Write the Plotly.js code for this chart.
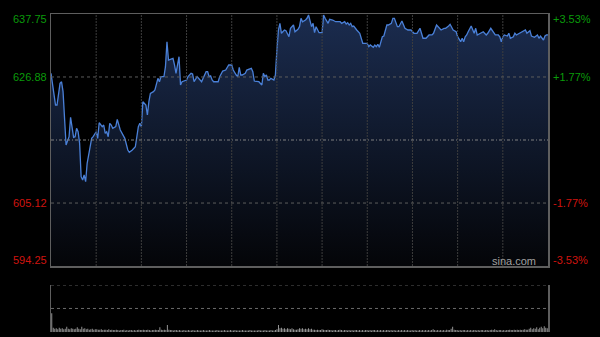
<!DOCTYPE html>
<html>
<head>
<meta charset="utf-8">
<script src="https://cdn.plot.ly/plotly-3.0.1.min.js"></script>
<style>html,body{margin:0;padding:0;background:#000;}#chart{width:600px;height:337px;}</style>
</head>
<body>
<div id="chart"></div>
<script>
// ---- data (minutes since open, price) ----
const minutes = [0,3,4,6,7,8,10,11,12,13,15,16,17,18,19,20,21,22,23,24,25,27,28,30,31,32,34,35,36,37,38,39,40,41,43,44,46,48,49,51,52,54,56,58,59,60,61,63,64,65,66,68,69,71,72,73,75,76,77,78,79,81,82,83,85,86,87,90,91,93,94,95,97,98,100,101,103,104,105,106,107,108,111,112,114,116,118,120,121,123,124,125,126,127,129,130,133,134,135,138,140,141,142,143,144,145,146,148,149,150,151,152,153,155,156,158,159,161,162,164,165,166,167,169,170,171,173,174,175,176,178,180,181,182,184,185,187,189,192,193,195,196,197,198,199,200,201,203,205,207,210,211,212,214,215,216,217,218,220,221,223,224,226,227,228,230,231,233,235,237,239,241,243,245,247,249,251,253,254,256,258,259,261,262,264,265,267,269,270,272,273,274,275,276,277,278,279,281,282,283,285,287,289,290,292,293,295,297,298,299,300,301,303,304,305,307,308,309,311,312,314,315,316,318,319,321,323,324,325,327,328,329,330];
const prices = [627.51,622.04,622.04,625.79,626.06,624.34,615.14,615.71,616.57,619.92,616.47,616.57,618.02,617.43,615.43,609.67,609.10,609.96,608.80,611.98,613.41,616.29,616.57,617.43,616.29,618.99,618.30,618.59,617.16,617.43,616.57,618.88,618.59,618.02,618.30,619.57,617.73,616.86,616.29,614.27,613.88,614.27,614.84,618.30,618.88,618.30,622.61,622.04,620.32,622.61,624.06,624.34,624.63,626.65,626.06,626.93,626.93,628.65,632.97,629.81,629.93,630.10,628.95,627.51,630.38,625.49,626.06,626.36,626.93,627.51,627.39,626.06,626.93,626.65,626.06,626.65,627.79,627.79,626.93,627.05,626.36,626.06,626.06,626.93,627.91,628.08,628.95,628.95,628.08,627.22,626.93,628.55,627.22,627.22,627.51,628.08,628.38,627.79,626.18,626.06,625.49,627.51,626.93,627.22,626.36,626.36,626.65,626.36,627.22,631.54,634.99,636.14,634.42,634.99,634.87,633.83,635.28,635.85,634.69,635.11,635.56,637.01,636.42,636.71,637.01,637.58,635.56,636.14,634.52,635.56,634.52,634.52,637.58,637.01,636.14,636.84,636.71,636.42,636.42,636.14,636.42,636.02,636.25,635.85,636.14,635.56,635.68,634.99,634.42,632.69,632.69,632.11,632.40,632.00,632.40,632.11,632.52,632.00,633.83,633.95,635.85,635.85,636.14,637.01,637.01,635.56,635.56,636.54,635.28,634.99,634.99,634.42,634.42,635.28,633.56,633.56,634.13,634.13,634.42,635.85,635.28,634.99,635.28,635.28,635.68,635.97,634.99,634.69,633.83,632.97,633.56,632.97,633.83,634.13,634.69,635.28,635.68,634.42,635.28,634.13,634.42,634.69,634.13,634.42,635.28,634.87,634.13,634.13,633.83,632.97,633.83,634.13,633.95,634.42,633.56,633.83,634.42,634.13,634.42,634.69,634.87,634.99,634.42,634.87,633.95,633.73,634.13,633.56,633.95,633.26,633.95,634.13,634.13];

// volume per minute (relative units, 0-100 = panel height)
const volume = [
40,9,7,8,6,9,7,8,6,7,11,7,6,8,7,6,7,10,7,6,11,7,8,6,7,5,6,7,5,6,
6,5,5,6,4,5,5,4,6,4,5,4,4,5,4,3,4,4,5,3,4,3,4,4,3,4,3,4,5,4,
4,5,4,4,5,4,3,4,4,5,4,4,10,5,4,5,4,15,5,4,4,3,4,4,3,4,3,3,4,3,
3,4,3,3,4,3,3,4,3,3,3,4,3,3,3,4,3,3,3,3,4,3,3,3,3,4,3,3,3,4,
3,3,4,3,3,3,3,4,3,3,3,3,4,3,3,3,3,3,4,3,3,3,4,3,3,3,4,3,3,4,
6,15,8,9,7,8,6,8,7,6,8,6,5,5,6,8,7,8,6,7,6,8,6,7,5,5,4,5,4,4,
6,5,4,4,5,4,4,3,4,4,3,4,5,4,3,4,4,3,4,3,4,3,4,4,3,4,3,4,3,4,
4,3,4,3,4,4,3,4,3,4,3,4,3,4,4,3,4,3,4,3,3,4,3,4,3,4,3,4,3,3,
4,3,4,3,3,4,3,4,3,4,3,4,3,4,6,4,3,4,3,4,3,4,3,5,4,4,7,11,5,4,
4,3,4,3,4,4,3,4,3,4,3,4,4,3,4,3,4,4,3,4,4,3,4,5,4,6,4,3,4,4,
3,4,3,4,4,5,4,4,5,4,5,4,5,4,5,6,5,5,7,9,6,8,7,10,6,9,11,8,12,9,8];
const volMinutes = volume.map((v, i) => i);

const prevClose = 616.00;
const priceTicks = [594.25, 605.12, 616.00, 626.88, 637.75];
const leftLabels = ["594.25", "605.12", "", "626.88", "637.75"];
const rightLabels = ["-3.53%", "-1.77%", "", "+1.77%", "+3.53%"];
const labelColors = ["#d0140f", "#d0140f", "", "#0a9a0a", "#0a9a0a"];
const timeGrid = [30, 60, 90, 120, 150, 180, 210, 240, 270, 300];
const volGrid = [50, 100];

const yMin = priceTicks[0], yMax = priceTicks[priceTicks.length - 1];

const traces = [
  {
    x: minutes, y: prices, type: 'scatter', mode: 'lines',
    line: {color: '#4a80d8', width: 1.3},
    fill: 'tozeroy',
    fillgradient: {type: 'vertical', start: yMin, stop: yMax,
      colorscale: [[0, '#040508'], [1, '#1b2c4f']]},
    xaxis: 'x', yaxis: 'y', hoverinfo: 'skip'
  },
  {
    x: volMinutes, y: volume, type: 'bar',
    marker: {color: '#969696', line: {width: 0}},
    xaxis: 'x2', yaxis: 'y2', hoverinfo: 'skip'
  }
];

const font = 'Liberation Sans, Arial, sans-serif';
const annotations = [];
const ySh = [6, 0, 0, 0, -5];
priceTicks.forEach((p, i) => {
  if (!leftLabels[i]) return;
  annotations.push({xref: 'paper', yref: 'y', x: 0, y: p, xanchor: 'right', yanchor: 'middle',
    xshift: -2, yshift: ySh[i], text: leftLabels[i], showarrow: false,
    font: {family: font, size: 11, color: labelColors[i]}});
  annotations.push({xref: 'paper', yref: 'y', x: 1, y: p, xanchor: 'left', yanchor: 'middle',
    xshift: 3, yshift: ySh[i], text: rightLabels[i], showarrow: false,
    font: {family: font, size: 11, color: labelColors[i]}});
});
annotations.push({xref: 'paper', yref: 'y', x: 1, y: yMin, xanchor: 'right', yanchor: 'middle',
  xshift: -10, yshift: 5, text: 'sina.com', showarrow: false,
  font: {family: font, size: 11, color: '#a0a0a0'}});

const shapes = [];
timeGrid.forEach(t => shapes.push({type: 'line', xref: 'x', yref: 'y', x0: t, x1: t, y0: yMin, y1: yMax,
  layer: 'above', line: {color: '#3e3e3e', width: 1, dash: '2px,1px'}}));
[priceTicks[1], priceTicks[3]].forEach(p => shapes.push({type: 'line', xref: 'x', yref: 'y', x0: 0, x1: 330, y0: p, y1: p,
  layer: 'above', line: {color: '#5c5c5c', width: 1, dash: 'dot'}}));
shapes.push({type: 'line', xref: 'x', yref: 'y', x0: 0, x1: 330, y0: prevClose, y1: prevClose,
  layer: 'above', line: {color: '#808080', width: 1, dash: '3px,2px,1px,2px'}});
volGrid.forEach(v => shapes.push({type: 'line', xref: 'x', yref: 'y2', x0: 0, x1: 330, y0: v, y1: v,
  layer: 'above', line: {color: '#6a6a6a', width: 1, dash: 'dot'}}));

const layout = {
  width: 600, height: 337,
  paper_bgcolor: '#000', plot_bgcolor: '#000',
  margin: {l: 51, r: 52, t: 14, b: 5},
  showlegend: false,
  bargap: 0.35,
  xaxis: {domain: [0, 1], range: [0, 330], anchor: 'y',
    showticklabels: false, ticks: '', showgrid: false,
    zeroline: false, showline: true, mirror: true, linecolor: '#5e5e5e', linewidth: 1.5},
  yaxis: {domain: [0.2075, 1], range: [yMin, yMax], anchor: 'x',
    showticklabels: false, ticks: '', showgrid: false,
    zeroline: false, showline: true, mirror: true, linecolor: '#5e5e5e', linewidth: 1.5},
  xaxis2: {domain: [0, 1], range: [-0.5, 330.5], anchor: 'y2',
    showticklabels: false, ticks: '', showgrid: false, zeroline: false, showline: false},
  yaxis2: {domain: [0, 0.148], range: [0, 100], anchor: 'x2',
    showticklabels: false, ticks: '', showgrid: false,
    zeroline: false, showline: true, mirror: true, linecolor: '#5e5e5e', linewidth: 1.5},
  annotations: annotations,
  shapes: shapes
};

Plotly.newPlot('chart', traces, layout, {displayModeBar: false, staticPlot: true});
</script>
</body>
</html>
